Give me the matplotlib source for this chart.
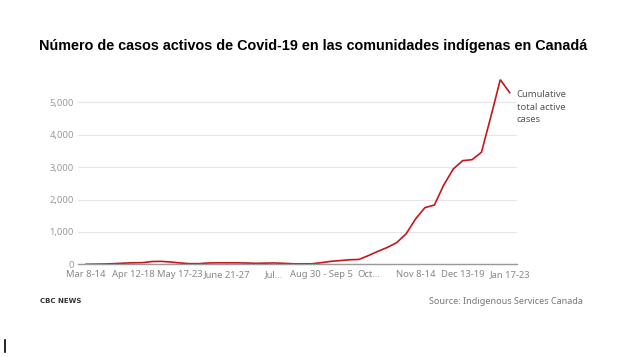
import matplotlib.pyplot as plt
from matplotlib.lines import Line2D

# casos activos por semana (Mar 8-14 ... Jan 17-23)
semanas = list(range(46))
casos = [0, 5, 10, 20, 35, 45, 50, 85, 90, 70,
         40, 20, 20, 40, 45, 45, 45, 40, 30, 35,
         40, 30, 15, 15, 15, 50, 90, 115, 140, 150,
         270, 400, 520, 670, 940, 1400, 1750, 1830, 2450, 2940,
         3200, 3230, 3460, 4560, 5700, 5300]

pos_etiquetas = [0, 5, 10, 15, 20, 25, 30, 35, 40, 45]
etiquetas = ['Mar 8-14', 'Apr 12-18', 'May 17-23', 'June 21-27', 'Jul...',
             'Aug 30 - Sep 5', 'Oct...', 'Nov 8-14', 'Dec 13-19', 'Jan 17-23']
y_ticks = [0, 1000, 2000, 3000, 4000, 5000]
y_labels = ['0', '1,000', '2,000', '3,000', '4,000', '5,000']

fuente = 'Noto Sans'

fig = plt.figure(figsize=(6.35, 3.57), dpi=100)
ax = fig.add_axes([0.1228, 0.2597, 0.691, 0.5443])

ax.plot(semanas, casos, color='#c4161c', lw=1.2, solid_joinstyle='miter')

ax.set_xlim(-0.85, 45.75)
ax.set_ylim(0, 6000)
ax.set_xticks(pos_etiquetas)
ax.set_xticklabels(etiquetas, fontfamily=fuente, fontsize=6.8, color='#888888')
ax.set_yticks(y_ticks)
ax.set_yticklabels(y_labels, fontfamily=fuente, fontsize=6.8, color='#999999')
ax.tick_params(length=0, axis='x', pad=4)
ax.tick_params(length=0, axis='y', pad=3)

ax.grid(axis='y', color='#e6e6e6', lw=0.8)
ax.set_axisbelow(True)
for s in ['top', 'right', 'left']:
    ax.spines[s].set_visible(False)
ax.spines['bottom'].set_color('#999999')
ax.spines['bottom'].set_linewidth(1.0)

ax.text(1.0, 0.895, 'Cumulative\ntotal active\ncases', transform=ax.transAxes,
        fontfamily=fuente, fontsize=6.8, color='#555555', va='top', ha='left',
        linespacing=1.5)

fig.text(0.493, 0.872, 'Número de casos activos de Covid-19 en las comunidades indígenas en Canadá',
         ha='center', va='center', fontfamily='Liberation Sans', fontweight='bold',
         fontsize=10.4, color='black')

fig.text(40 / 635, 1 - 301 / 357, 'CBC NEWS', fontfamily='DejaVu Sans', fontweight='bold',
         fontsize=5.0, color='#333333', va='center', ha='left')
fig.text(583 / 635, 1 - 301 / 357, 'Source: Indigenous Services Canada', fontfamily=fuente,
         fontsize=6.5, color='#777777', va='center', ha='right')

fig.add_artist(Line2D([5 / 635, 5 / 635], [1 - 340 / 357, 1 - 352 / 357],
                      transform=fig.transFigure, color='black', lw=1.2))

fig.savefig('out.png', dpi=100)
